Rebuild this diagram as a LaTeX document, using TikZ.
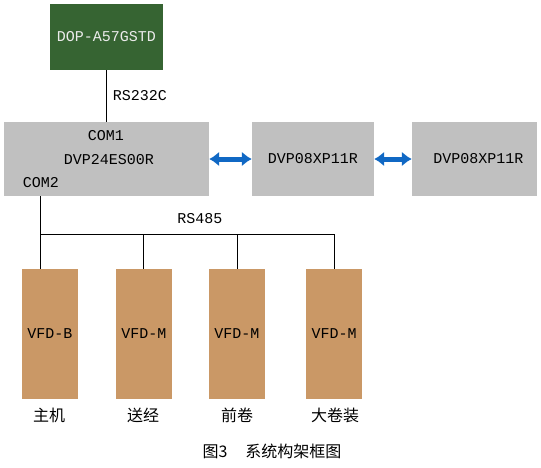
\documentclass[tikz,border=0pt]{standalone}
\usepackage{fontspec}
\setmainfont{Liberation Mono}
\newfontfamily\cjk{Noto Sans CJK SC}
\usepackage{xcolor}
\usetikzlibrary{arrows.meta}

\definecolor{hmigreen}{RGB}{54,100,50}
\definecolor{plcgray}{RGB}{192,192,192}
\definecolor{vfdtan}{RGB}{202,152,102}
\definecolor{linkblue}{RGB}{16,104,196}

\tikzset{
  plcbox/.style={fill=plcgray, draw=none, minimum width=#1, minimum height=74pt, inner sep=0pt, font=\fontsize{15}{17}\selectfont},
  vfdbox/.style={fill=vfdtan, draw=none, minimum width=56pt, minimum height=130pt, inner sep=0pt},
  linkarrow/.style={linkblue, line width=5pt, {Latex[length=10pt,width=15pt]}-{Latex[length=10pt,width=15pt]}},
  wire/.style={black, line width=0.8pt},
  lbl/.style={inner sep=0pt, font=\fontsize{15}{17}\selectfont},
  cnlbl/.style={inner sep=0pt, font=\cjk\fontsize{16}{18}\selectfont}
}

\begin{document}
\begin{tikzpicture}[x=1pt,y=-1pt]
\useasboundingbox (0,0) rectangle (541,467);

% HMI
\node[fill=hmigreen, minimum width=113pt, minimum height=66pt, inner sep=0pt,
      text=white!92!black, font=\fontsize{15}{17}\selectfont] (hmi) at (106.5,37) {DOP-A57GSTD};

% PLC and extension modules
\node[plcbox=205pt] (plc) at (106.5,159) {};
\node[lbl] (plctxt) at (109,160) {DVP24ES00R};
\node[lbl] (com1) at (106,136) {COM1};
\node[lbl] (com2) at (41,183) {COM2};
\node[plcbox=122pt] (ext1) at (313,159) {DVP08XP11R};
\node[plcbox=125pt] (ext2) at (474.5,159) {\hspace{8pt}DVP08XP11R};

\draw[wire] (hmi.south) -- (hmi.south |- plc.north) node[lbl, midway, right=6pt] {RS232C};
\draw[linkarrow] (plc.east) -- (ext1.west);
\draw[linkarrow] (ext1.east) -- (ext2.west);

% RS485 bus
\coordinate (c2) at (40,196);
\coordinate (b1) at (40,234);
\coordinate (b2) at (143,234);
\coordinate (b3) at (237,234);
\coordinate (b4) at (334,234);
\node[lbl] (rs485) at (200,219) {RS485};

% drives
\node[vfdbox] (v1) at (50,334) {};
\node[lbl] (v1txt) at (50,334) {VFD-B};
\node[vfdbox] (v2) at (144,334) {};
\node[vfdbox] (v3) at (237,334) {};
\node[vfdbox] (v4) at (334,334) {};
\node[lbl] (v2txt) at (v2) {VFD-M};
\node[lbl] (v3txt) at (v3) {VFD-M};
\node[lbl] (v4txt) at (v4) {VFD-M};

\draw[wire] (c2) -- (b1) -- (b4);
\draw[wire] (b1) -- (b1 |- v1.north);
\draw[wire] (b2) -- (b2 |- v2.north);
\draw[wire] (b3) -- (b3 |- v3.north);
\draw[wire] (b4) -- (b4 |- v4.north);

\node[cnlbl] (n1) at (49,415) {主机};
\node[cnlbl] (n2) at (143,415) {送经};
\node[cnlbl] (n3) at (237,415) {前卷};
\node[cnlbl] (n4) at (335,415) {大卷装};

% caption
\node[cnlbl] (cap) at (272,451) {图3\hspace{18pt}系统构架框图};

\end{tikzpicture}
\end{document}
